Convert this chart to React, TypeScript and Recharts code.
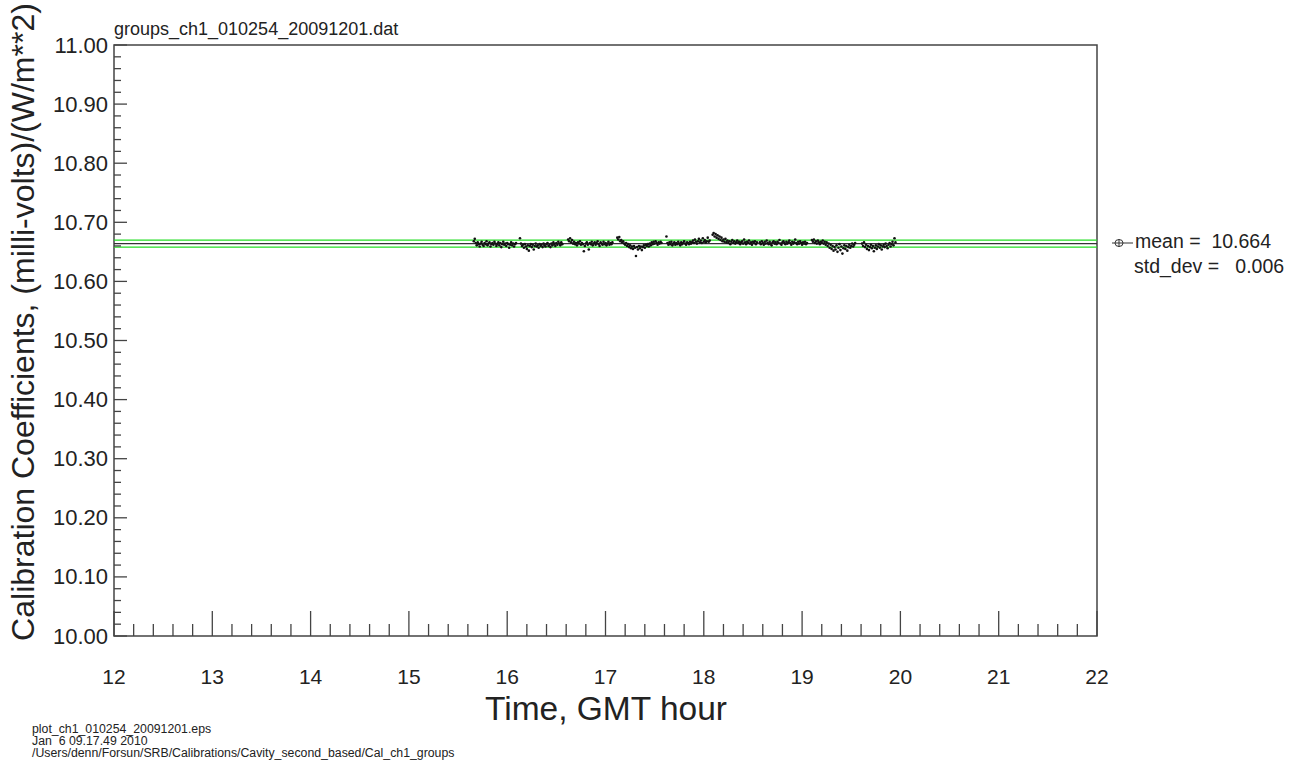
import React from "react";
import { ScatterChart, Scatter, XAxis, YAxis, ReferenceLine, ReferenceArea } from "recharts";

// ticks
const xMajor = [12, 13, 14, 15, 16, 17, 18, 19, 20, 21, 22];
const yMajor = [10.0, 10.1, 10.2, 10.3, 10.4, 10.5, 10.6, 10.7, 10.8, 10.9, 11.0];

// stats shown in the legend
const meanValue = 10.664;
const stdDev = 0.006;

// each group is sampled every 0.01 h from its start time
const sampleStep = 0.01;
const groupStarts = [15.66, 16.13, 16.62, 17.12, 17.62, 18.09, 18.57, 19.1, 19.61];

const g1 = [10.668, 10.672, 10.665, 10.661, 10.666, 10.663, 10.659, 10.664, 10.667, 10.662, 10.66, 10.665, 10.663, 10.668, 10.661, 10.664, 10.666, 10.659, 10.663, 10.665, 10.662, 10.667, 10.664, 10.66, 10.663, 10.666, 10.661, 10.665, 10.658, 10.663, 10.667, 10.662, 10.664, 10.66, 10.665, 10.663, 10.657, 10.662, 10.666, 10.661, 10.664, 10.659, 10.663, 10.665];
const g2 = [10.673, 10.664, 10.66, 10.662, 10.657, 10.663, 10.659, 10.655, 10.661, 10.652, 10.66, 10.663, 10.658, 10.662, 10.654, 10.66, 10.664, 10.659, 10.661, 10.657, 10.663, 10.66, 10.662, 10.658, 10.664, 10.661, 10.659, 10.663, 10.665, 10.66, 10.662, 10.658, 10.664, 10.661, 10.666, 10.663, 10.66, 10.665, 10.662, 10.667, 10.664, 10.661, 10.666, 10.663];
const g3 = [10.671, 10.668, 10.673, 10.666, 10.67, 10.664, 10.667, 10.663, 10.665, 10.661, 10.666, 10.664, 10.668, 10.662, 10.665, 10.663, 10.651, 10.66, 10.664, 10.666, 10.662, 10.654, 10.665, 10.663, 10.667, 10.661, 10.664, 10.666, 10.662, 10.665, 10.668, 10.663, 10.66, 10.666, 10.664, 10.662, 10.667, 10.663, 10.665, 10.661, 10.664, 10.667, 10.662, 10.665, 10.663, 10.666];
const g4 = [10.674, 10.671, 10.675, 10.668, 10.67, 10.666, 10.668, 10.664, 10.662, 10.665, 10.66, 10.663, 10.658, 10.661, 10.656, 10.659, 10.655, 10.66, 10.657, 10.643, 10.658, 10.654, 10.66, 10.656, 10.659, 10.653, 10.658, 10.661, 10.657, 10.662, 10.66, 10.663, 10.659, 10.664, 10.661, 10.666, 10.663, 10.667, 10.664, 10.668, 10.665, 10.662, 10.666, 10.664, 10.667, 10.665];
const g5 = [10.676, 10.665, 10.662, 10.666, 10.663, 10.667, 10.661, 10.664, 10.666, 10.662, 10.665, 10.663, 10.667, 10.664, 10.661, 10.666, 10.663, 10.665, 10.668, 10.664, 10.662, 10.666, 10.665, 10.663, 10.667, 10.664, 10.666, 10.669, 10.665, 10.671, 10.667, 10.664, 10.668, 10.672, 10.666, 10.669, 10.665, 10.673, 10.667, 10.67, 10.666, 10.668, 10.674, 10.667, 10.669];
const g6 = [10.679, 10.682, 10.676, 10.68, 10.674, 10.678, 10.672, 10.676, 10.67, 10.674, 10.668, 10.671, 10.667, 10.672, 10.666, 10.669, 10.665, 10.668, 10.663, 10.667, 10.67, 10.665, 10.668, 10.664, 10.666, 10.669, 10.665, 10.667, 10.663, 10.666, 10.668, 10.664, 10.671, 10.666, 10.663, 10.667, 10.665, 10.669, 10.664, 10.666, 10.662, 10.667, 10.665, 10.668, 10.663, 10.666];
const g7 = [10.666, 10.663, 10.668, 10.665, 10.662, 10.667, 10.664, 10.669, 10.665, 10.663, 10.667, 10.664, 10.661, 10.666, 10.668, 10.664, 10.666, 10.663, 10.667, 10.665, 10.67, 10.664, 10.662, 10.666, 10.668, 10.665, 10.663, 10.667, 10.664, 10.666, 10.669, 10.665, 10.662, 10.667, 10.664, 10.666, 10.671, 10.665, 10.663, 10.667, 10.664, 10.668, 10.665, 10.662, 10.666, 10.664, 10.667, 10.663, 10.665];
const g8 = [10.67, 10.667, 10.671, 10.665, 10.668, 10.664, 10.669, 10.666, 10.663, 10.667, 10.665, 10.669, 10.664, 10.667, 10.662, 10.666, 10.66, 10.664, 10.657, 10.662, 10.655, 10.66, 10.652, 10.658, 10.654, 10.661, 10.65, 10.657, 10.663, 10.653, 10.659, 10.647, 10.656, 10.661, 10.655, 10.66, 10.652, 10.658, 10.662, 10.657, 10.66, 10.664, 10.659, 10.662, 10.665];
const g9 = [10.664, 10.66, 10.666, 10.658, 10.662, 10.655, 10.66, 10.653, 10.658, 10.662, 10.656, 10.66, 10.651, 10.657, 10.661, 10.655, 10.659, 10.663, 10.657, 10.661, 10.654, 10.659, 10.662, 10.658, 10.664, 10.66, 10.656, 10.662, 10.665, 10.659, 10.663, 10.667, 10.661, 10.673, 10.666];
const groupValues = [g1, g2, g3, g4, g5, g6, g7, g8, g9];

const points = groupValues.flatMap((vals, gi) =>
  vals.map((v, i) => ({ x: groupStarts[gi] + i * sampleStep, y: v }))
);

// 4 minor ticks between x majors, 4 between y majors
const xTicks = xMajor.flatMap((h, i) =>
  i === xMajor.length - 1 ? [h] : [h, h + 0.2, h + 0.4, h + 0.6, h + 0.8]
);
const yTicks = yMajor.flatMap((v, i) =>
  i === yMajor.length - 1 ? [v] : [v, v + 0.02, v + 0.04, v + 0.06, v + 0.08]
);

const FONT = "'Liberation Sans', Arial, Helvetica, sans-serif";
const AXIS = "#444";

const isMajor = (v: number, step: number) => Math.abs(v / step - Math.round(v / step)) < 1e-6;

const XTick = (props: any) => {
  const { x, y, payload } = props;
  const major = isMajor(payload.value, 1);
  return (
    <g>
      <line x1={x} x2={x} y1={y} y2={y - (major ? 25 : 12)} stroke={AXIS} strokeWidth={1.3} />
      {major && (
        <text x={x} y={y + 48} textAnchor="middle" fontSize={21} fontFamily={FONT} fill="#222">
          {Math.round(payload.value)}
        </text>
      )}
    </g>
  );
};

const YTick = (props: any) => {
  const { x, y, payload } = props;
  const major = isMajor(payload.value, 0.1);
  return (
    <g>
      <line x1={x} x2={x + (major ? 13 : 7)} y1={y} y2={y} stroke={AXIS} strokeWidth={1.3} />
      {major && (
        <text x={x - 6} y={y + 7.5} textAnchor="end" fontSize={22} fontFamily={FONT} fill="#222">
          {payload.value.toFixed(2)}
        </text>
      )}
    </g>
  );
};

const Dot = (props: any) => <circle cx={props.cx} cy={props.cy} r={1.3} fill="#111" />;

export default function App() {
  return (
    <div style={{ position: "absolute", left: 0, top: 0, width: 1311, height: 767, background: "#fff" }}>
      <ScatterChart width={1311} height={767} margin={{ top: 45, right: 214, left: 0, bottom: 0 }}>
        <XAxis
          type="number"
          dataKey="x"
          domain={[12, 22]}
          ticks={xTicks}
          interval={0}
          height={131}
          tickLine={false}
          tickSize={0}
          tickMargin={0}
          axisLine={false}
          tick={<XTick />}
          allowDataOverflow
        />
        <YAxis
          type="number"
          dataKey="y"
          domain={[10, 11]}
          ticks={yTicks}
          interval={0}
          width={114}
          tickLine={false}
          tickSize={0}
          tickMargin={0}
          axisLine={false}
          tick={<YTick />}
          allowDataOverflow
        />
        <ReferenceArea x1={12} x2={22} y1={10} y2={11} fill="none" stroke={AXIS} strokeWidth={1.5} />
        <Scatter data={points} shape={<Dot />} isAnimationActive={false} />
        <ReferenceLine y={meanValue + stdDev} stroke="#22dd22" strokeWidth={1.3} />
        <ReferenceLine y={meanValue} stroke="#333" strokeWidth={1.1} />
        <ReferenceLine y={meanValue - stdDev} stroke="#22dd22" strokeWidth={1.3} />
      </ScatterChart>
      <svg
        width={1311}
        height={767}
        style={{ position: "absolute", left: 0, top: 0, pointerEvents: "none" }}
        fontFamily={FONT}
      >
        <text x={114} y={35} fontSize={18} fill="#222">groups_ch1_010254_20091201.dat</text>
        <text
          x={34}
          y={322}
          fontSize={32}
          fill="#222"
          textAnchor="middle"
          transform="rotate(-90 34 322)"
        >
          Calibration Coefficients, (milli-volts)/(W/m**2)
        </text>
        <text x={606} y={720} fontSize={33.5} fill="#222" textAnchor="middle">Time, GMT hour</text>
        <line x1={1112} x2={1133} y1={243} y2={243} stroke="#333" strokeWidth={1} />
        <ellipse cx={1119} cy={243} rx={4} ry={3.5} fill="none" stroke="#333" strokeWidth={1} />
        <line x1={1119} x2={1119} y1={239} y2={247} stroke="#333" strokeWidth={1} />
        <text x={1135} y={248} fontSize={19.5} fill="#222" xmlSpace="preserve">mean =  10.664</text>
        <text x={1134} y={273} fontSize={19.5} fill="#222" xmlSpace="preserve">std_dev =   0.006</text>
        <text fontSize={12.3} fill="#222" xmlSpace="preserve">
          <tspan x={32} y={733}>plot_ch1_010254_20091201.eps</tspan>
          <tspan x={32} y={745}>Jan  6 09.17.49 2010</tspan>
          <tspan x={32} y={757}>/Users/denn/Forsun/SRB/Calibrations/Cavity_second_based/Cal_ch1_groups</tspan>
        </text>
      </svg>
    </div>
  );
}
